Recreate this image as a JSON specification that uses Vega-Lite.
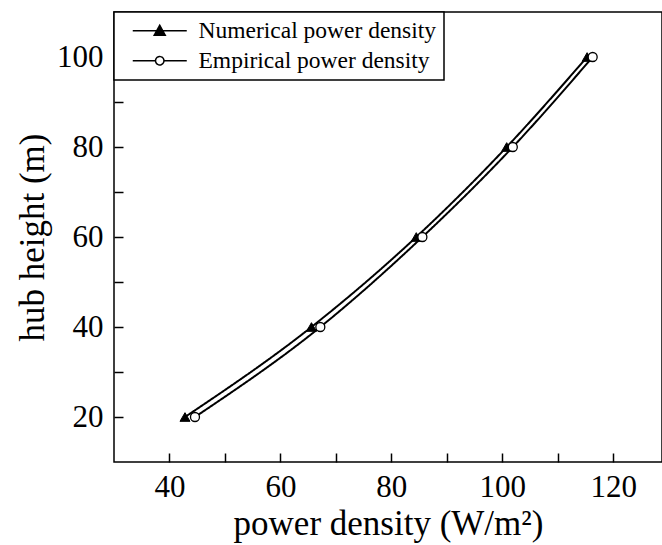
{
  "$schema": "https://vega.github.io/schema/vega-lite/v6.json",
  "width": 548,
  "height": 450,
  "autosize": "none",
  "padding": {"left": 114, "top": 12, "right": 0, "bottom": 83},
  "background": "white",
  "config": {
    "view": {"stroke": "black", "strokeWidth": 1.5},
    "axis": {
      "labelFont": "Liberation Serif",
      "labelFontSize": 31,
      "labelColor": "black",
      "titleFont": "Liberation Serif",
      "titleFontSize": 35,
      "titleFontWeight": "normal",
      "titleColor": "black",
      "tickColor": "black",
      "tickWidth": 1.5,
      "grid": false,
      "domain": false
    }
  },
  "data": {
    "values": [
      {"p": 42.8, "h": 20, "series": "Numerical power density"},
      {"p": 65.6, "h": 40, "series": "Numerical power density"},
      {"p": 84.5, "h": 60, "series": "Numerical power density"},
      {"p": 100.8, "h": 80, "series": "Numerical power density"},
      {"p": 115.3, "h": 100, "series": "Numerical power density"},
      {"p": 44.6, "h": 20, "series": "Empirical power density"},
      {"p": 67.2, "h": 40, "series": "Empirical power density"},
      {"p": 85.6, "h": 60, "series": "Empirical power density"},
      {"p": 101.9, "h": 80, "series": "Empirical power density"},
      {"p": 116.3, "h": 100, "series": "Empirical power density"}
    ]
  },
  "encoding": {
    "x": {
      "field": "p",
      "type": "quantitative",
      "scale": {"domain": [30, 128.8], "nice": false, "zero": false},
      "axis": {
        "title": "power density (W/m²)",
        "values": [40, 50, 60, 70, 80, 90, 100, 110, 120],
        "labelExpr": "datum.value % 20 === 0 ? datum.label : ''",
        "tickSize": -9,
        "labelPadding": 19,
        "titlePadding": 4,
        "encode": {"ticks": {"update": {"y2": {"signal": "datum.value % 20 === 0 ? -9 : -4"}}}}
      }
    },
    "y": {
      "field": "h",
      "type": "quantitative",
      "scale": {"domain": [10, 110], "nice": false, "zero": false},
      "axis": {
        "title": "hub height (m)",
        "values": [20, 30, 40, 50, 60, 70, 80, 90, 100],
        "labelExpr": "datum.value % 20 === 0 ? datum.label : ''",
        "tickSize": -9,
        "labelPadding": 20,
        "titlePadding": 6,
        "encode": {"ticks": {"update": {"x2": {"signal": "datum.value % 20 === 0 ? 9 : 4"}}}}
      }
    }
  },
  "layer": [
    {
      "mark": {"type": "line", "color": "black", "strokeWidth": 2, "interpolate": "monotone"},
      "encoding": {
        "strokeDash": {
          "field": "series",
          "type": "nominal",
          "scale": {"domain": ["Numerical power density", "Empirical power density"], "range": [[1, 0], [1, 0]]},
          "legend": {
            "title": null,
            "orient": "top-left",
            "offset": 0,
            "strokeColor": "black",
            "fillColor": "white",
            "padding": 7,
            "rowPadding": 5,
            "symbolSize": 400,
            "symbolType": "M0,0H5.4M2.7,-0.55L3.25,0.45L2.15,0.45Z",
            "symbolFillColor": "black",
            "symbolStrokeColor": "black",
            "symbolStrokeWidth": 1.5,
            "symbolOpacity": 1,
            "labelOffset": 54,
            "labelFont": "Liberation Serif",
            "labelFontSize": 23.5,
            "labelColor": "black",
            "labelLimit": 400,
            "encode": {
              "legend": {"update": {"strokeWidth": {"value": 1.5}}},
              "symbols": {
                "update": {
                  "shape": {"signal": "datum.value === 'Empirical power density' ? 'M0,0H2.28M3.12,0H5.4M3.12,0A0.42,0.42 0 1,1 2.28,0A0.42,0.42 0 1,1 3.12,0Z' : 'M0,0H5.4M2.7,-0.55L3.25,0.45L2.15,0.45Z'"},
                  "fill": {"signal": "datum.value === 'Empirical power density' ? 'white' : 'black'"},
                  "stroke": {"value": "black"},
                  "strokeWidth": {"value": 1.5},
                  "opacity": {"value": 1}
                }
              }
            }
          }
        }
      }
    },
    {
      "transform": [{"filter": "datum.series === 'Numerical power density'"}],
      "mark": {"type": "point", "shape": "triangle-up", "filled": true, "fill": "black", "stroke": "black", "strokeWidth": 1, "opacity": 1, "size": 100},
      "encoding": {}
    },
    {
      "transform": [{"filter": "datum.series === 'Empirical power density'"}],
      "mark": {"type": "point", "shape": "circle", "filled": true, "fill": "white", "stroke": "black", "strokeWidth": 1.3, "opacity": 1, "size": 81},
      "encoding": {}
    }
  ]
}
